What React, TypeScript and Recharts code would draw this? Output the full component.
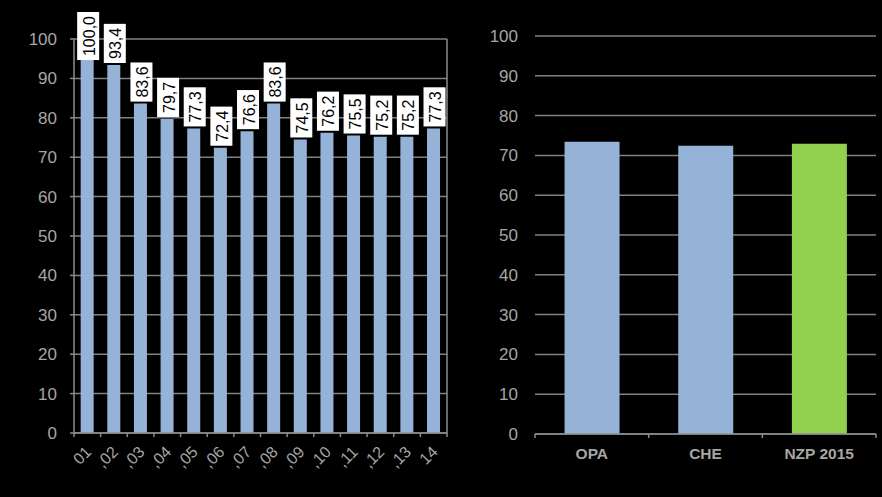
import React from 'react';
import { BarChart, Bar, XAxis, YAxis, CartesianGrid, LabelList, Cell } from 'recharts';

const years = ['01', ',02', ',03', ',04', ',05', ',06', ',07', ',08', ',09', ',10', ',11', ',12', ',13', '14'];
const yearIndex = [100.0, 93.4, 83.6, 79.7, 77.3, 72.4, 76.6, 83.6, 74.5, 76.2, 75.5, 75.2, 75.2, 77.3];
const groups = ['OPA', 'CHE', 'NZP 2015'];
const groupValues = [73.4, 72.4, 72.9];
const yTicks = [0, 10, 20, 30, 40, 50, 60, 70, 80, 90, 100];

const trendData = years.map((year, i) => ({ year, value: yearIndex[i] }));
const compareData = groups.map((name, i) => ({ name, value: groupValues[i] }));

const AXIS = '#8c8c8c';
const GRID = '#808080';
const TEXT = '#a6a6a6';
const BLUE = '#95b3d7';
const GREEN = '#92d050';
const FONT = '"Liberation Sans", Arial, sans-serif';

// ticks sit on category boundaries, labels on the centre
const BoundaryTick = (props: any) => {
  const { x, y, payload, index, visibleTicksCount, rotated } = props;
  const half = payload.offset ?? 0;
  const last = index === visibleTicksCount - 1;
  return (
    <g>
      <line x1={x - half} x2={x - half} y1={y} y2={y + 4} stroke={AXIS} strokeWidth={1.5} />
      {last && <line x1={x + half} x2={x + half} y1={y} y2={y + 4} stroke={AXIS} strokeWidth={1.5} />}
      {rotated ? (
        <text
          transform={`translate(${x + 5},${y + 20}) rotate(-45)`}
          textAnchor="end"
          fill={TEXT}
          fontSize={16}
        >
          {payload.value}
        </text>
      ) : (
        <text x={x} y={y + 14} dy="0.71em" textAnchor="middle" fill={TEXT} fontSize={15.5} fontWeight="bold">
          {payload.value}
        </text>
      )}
    </g>
  );
};

const ValueBox = (props: any) => {
  const { x, y, width, value } = props;
  const text = Number(value).toFixed(1).replace('.', ',');
  const h = text.replace(',', '').length * 8.9 + 4.45 + 8;
  const cx = x + width / 2 + 1;
  const bottom = y - 2;
  const top = Math.max(12, bottom - h);
  return (
    <g>
      <rect x={cx - 11} y={top} width={22} height={h} fill="#ffffff" />
      <text
        transform={`translate(${cx + 1},${top + h / 2}) rotate(-90)`}
        textAnchor="middle"
        dominantBaseline="central"
        fontSize={16}
        fill="#000000"
      >
        {text}
      </text>
    </g>
  );
};

export default function App() {
  return (
    <div
      style={{
        position: 'absolute',
        left: 0,
        top: 0,
        width: 882,
        height: 497,
        background: '#000000',
        fontFamily: FONT,
        overflow: 'hidden',
      }}
    >
      <div style={{ position: 'absolute', left: 0, top: 0 }}>
        <BarChart width={460} height={497} data={trendData} margin={{ top: 39, right: 0, bottom: 0, left: 0 }} barCategoryGap="25%">
          <CartesianGrid yAxisId="l" vertical={false} stroke={GRID} strokeWidth={1.5} />
          <XAxis
            dataKey="year"
            height={64}
            interval={0}
            tickSize={0}
            tickMargin={0}
            axisLine={{ stroke: AXIS, strokeWidth: 1.5 }}
            tickLine={false}
            tick={(p: any) => <BoundaryTick {...p} rotated />}
          />
          <YAxis
            yAxisId="l"
            width={74}
            domain={[0, 100]}
            ticks={yTicks}
            interval={0}
            tickSize={4}
            tickMargin={13}
            axisLine={{ stroke: AXIS, strokeWidth: 1.5 }}
            tickLine={{ stroke: AXIS, strokeWidth: 1.5 }}
            tick={{ fill: TEXT, fontSize: 17 }}
          />
          <YAxis
            yAxisId="r"
            orientation="right"
            width={13}
            domain={[0, 100]}
            tick={false}
            tickLine={false}
            axisLine={{ stroke: AXIS, strokeWidth: 1.5 }}
          />
          <Bar yAxisId="l" dataKey="value" fill={BLUE} isAnimationActive={false}>
            <LabelList dataKey="value" content={(p: any) => <ValueBox {...p} />} />
          </Bar>
        </BarChart>
      </div>
      <div style={{ position: 'absolute', left: 460, top: 0 }}>
        <BarChart width={422} height={497} data={compareData} margin={{ top: 36, right: 6, bottom: 0, left: 0 }} barCategoryGap="26%">
          <CartesianGrid vertical={false} stroke={GRID} strokeWidth={1.5} />
          <XAxis
            dataKey="name"
            height={63}
            interval={0}
            tickSize={0}
            tickMargin={0}
            axisLine={{ stroke: AXIS, strokeWidth: 1.5 }}
            tickLine={false}
            tick={(p: any) => <BoundaryTick {...p} />}
          />
          <YAxis
            width={75}
            domain={[0, 100]}
            ticks={yTicks}
            interval={0}
            tickSize={0}
            tickMargin={17}
            axisLine={false}
            tickLine={false}
            tick={{ fill: TEXT, fontSize: 17 }}
          />
          <Bar dataKey="value" isAnimationActive={false}>
            {compareData.map((d, i) => (
              <Cell key={d.name} fill={i === compareData.length - 1 ? GREEN : BLUE} />
            ))}
          </Bar>
        </BarChart>
      </div>
    </div>
  );
}
